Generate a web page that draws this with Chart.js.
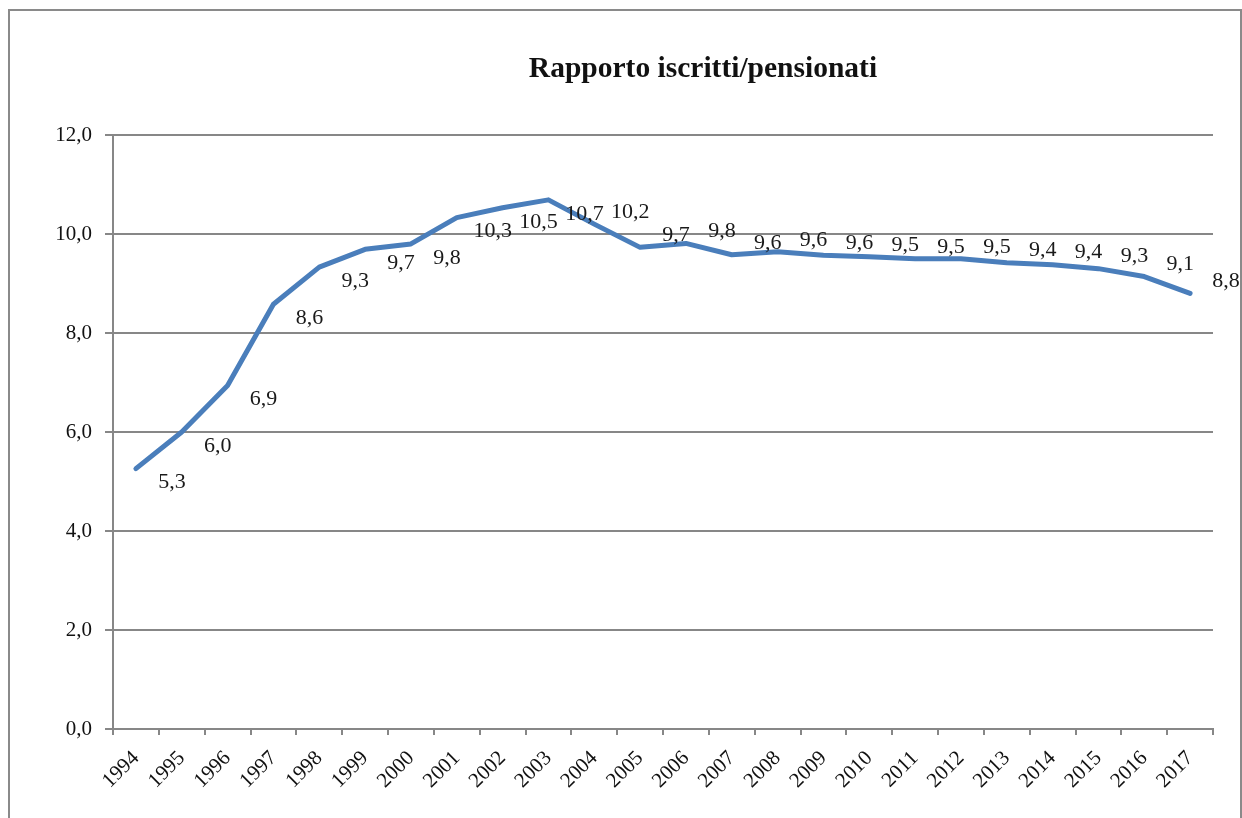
<!DOCTYPE html>
<html>
<head>
<meta charset="utf-8">
<script src="https://cdn.jsdelivr.net/npm/chart.js@4/dist/chart.umd.min.js"></script>
<style>
  body { margin: 0; background: #fff; }
  #wrap { position: relative; width: 1242px; height: 818px; overflow: hidden; }
  #frame { position: absolute; left: 8px; top: 9px; right: 0; bottom: -10px; border: 2px solid #8a8a8a; pointer-events: none; }
</style>
</head>
<body>
<div id="wrap">
  <canvas id="myChart" width="1242" height="818"></canvas>
  <div id="frame"></div>
</div>
<script>
const years = ['1994', '1995', '1996', '1997', '1998', '1999', '2000', '2001', '2002', '2003', '2004', '2005',
               '2006', '2007', '2008', '2009', '2010', '2011', '2012', '2013', '2014', '2015', '2016', '2017'];
const ratio = [5.26, 6.0, 6.94, 8.58, 9.33, 9.69, 9.8, 10.33, 10.53, 10.69, 10.2, 9.73,
               9.81, 9.58, 9.64, 9.57, 9.54, 9.5, 9.5, 9.42, 9.38, 9.3, 9.14, 8.8];
const chartTitle = 'Rapporto iscritti/pensionati';

const serif = '"Liberation Serif", "DejaVu Serif", serif';
const gridGrey = '#878787';

function comma(v) {
  return Number(v).toFixed(1).replace('.', ',');
}

// title sits off-centre in the original, so draw it by hand
const titlePlugin = {
  id: 'titlePlugin',
  afterDraw(chart) {
    const c = chart.ctx;
    c.save();
    c.font = 'bold 29.5px ' + serif;
    c.fillStyle = '#111';
    c.textAlign = 'center';
    c.textBaseline = 'alphabetic';
    c.fillText(chartTitle, 703, 77);
    c.restore();
  }
};

// value labels to the right of each point, below while rising, above after the peak
const valueLabels = {
  id: 'valueLabels',
  afterDatasetsDraw(chart) {
    const c = chart.ctx;
    const meta = chart.getDatasetMeta(0);
    const peak = ratio.indexOf(Math.max(...ratio));
    c.save();
    c.font = '22px ' + serif;
    c.fillStyle = '#1a1a1a';
    c.textAlign = 'center';
    c.textBaseline = 'middle';
    meta.data.forEach((pt, i) => {
      const dy = i <= peak ? 14 : -12;
      c.fillText(comma(ratio[i]), pt.x + 36, pt.y + dy);
    });
    c.restore();
  }
};

const ctx = document.getElementById('myChart');

const myChart = new Chart(ctx, {
  type: 'line',
  data: {
    labels: years,
    datasets: [
      {
        label: 'Rapporto',
        data: ratio,
        borderColor: '#4a7ebb',
        borderWidth: 5,
        borderJoinStyle: 'round',
        borderCapStyle: 'round',
        pointRadius: 0,
        tension: 0,
        fill: false,
      }
    ]
  },
  options: {
    responsive: false,
    animation: false,
    layout: {
      padding: { top: 135, right: 29, bottom: 0, left: 0 }
    },
    plugins: {
      legend: { display: false },
      title: { display: false },
      tooltip: { enabled: false },
    },
    scales: {
      x: {
        offset: true,
        afterFit(scale) { scale.height = 89; },
        grid: {
          offset: true,
          drawOnChartArea: false,
          drawTicks: true,
          tickLength: 6,
          color: gridGrey,
          lineWidth: 2,
        },
        border: { color: gridGrey, width: 2 },
        ticks: {
          minRotation: 45,
          maxRotation: 45,
          autoSkip: false,
          padding: 11,
          color: '#111',
          font: { family: serif, size: 21 },
        }
      },
      y: {
        min: 0,
        max: 12,
        afterFit(scale) { scale.width = 113; },
        grid: {
          color: gridGrey,
          lineWidth: 2,
          tickLength: 8,
        },
        border: { color: gridGrey, width: 2 },
        ticks: {
          stepSize: 2,
          padding: 13,
          color: '#111',
          font: { family: serif, size: 21 },
          callback: (v) => comma(v),
        }
      }
    }
  },
  plugins: [titlePlugin, valueLabels],
});
</script>
</body>
</html>
